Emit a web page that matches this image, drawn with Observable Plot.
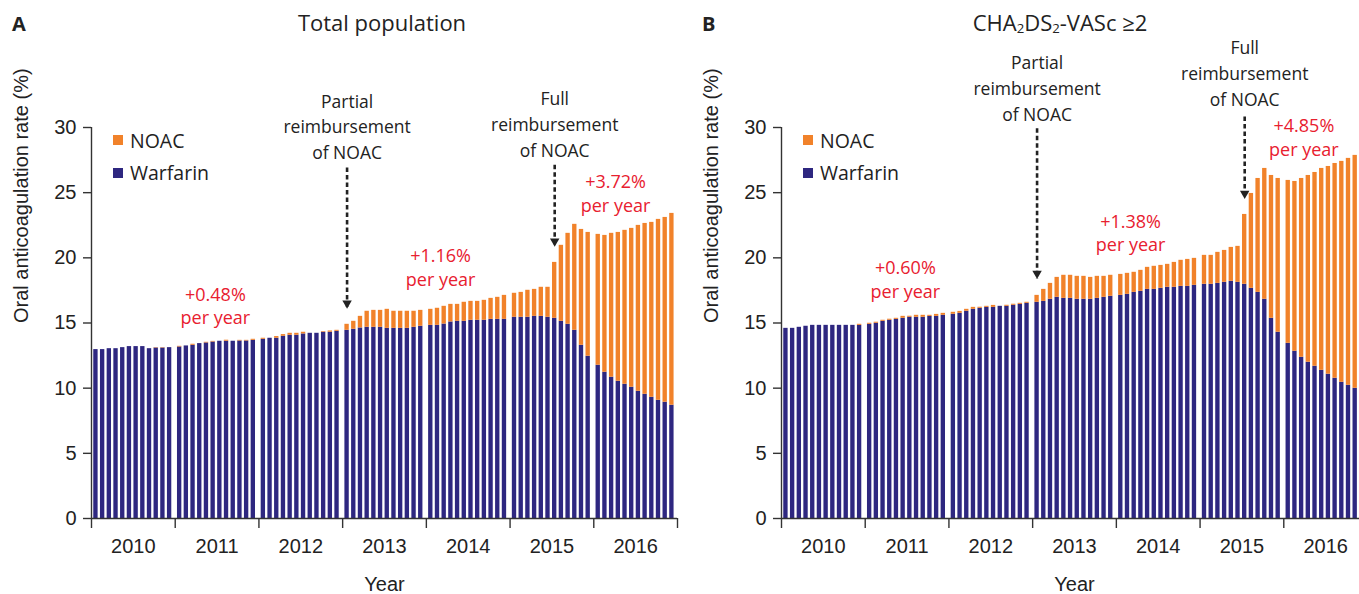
<!DOCTYPE html>
<html><head><meta charset="utf-8">
<script src="https://cdn.jsdelivr.net/npm/d3@7"></script>
<script src="https://cdn.jsdelivr.net/npm/@observablehq/plot@0.6"></script>
<style>
body{margin:0;overflow:hidden;background:#fff;}
#wrap{position:relative;width:1359px;height:594px;overflow:hidden;background:#fff;}
.panel{position:absolute;top:0;height:594px;}
.t{position:absolute;font-family:"Open Sans",sans-serif;color:#222;white-space:nowrap;line-height:1;}
.letter{font-weight:700;font-size:20px;}
.title{font-size:22px;transform:translateX(-50%);}
.title sub{font-size:0.6em;vertical-align:-0.12em;}
.sw{position:absolute;width:10px;height:10px;}
.lg{position:absolute;font-family:"Open Sans",sans-serif;font-size:19.5px;color:#222;line-height:1;white-space:nowrap;}
</style></head><body><div id="wrap"></div>
<script>
// ---- data ----
const years = [2010, 2011, 2012, 2013, 2014, 2015, 2016];
const series = ["NOAC", "Warfarin"];
const yTicks = [0, 5, 10, 15, 20, 25, 30];

const warfarinA = [
  12.96,12.96,13.03,13.03,13.11,13.19,13.19,13.19,13.03,13.08,13.08,13.11,
  13.16,13.24,13.29,13.42,13.47,13.54,13.60,13.60,13.60,13.62,13.62,13.67,
  13.75,13.83,13.83,13.98,14.06,14.06,14.16,14.21,14.21,14.29,14.29,14.36,
  14.44,14.52,14.62,14.67,14.67,14.67,14.59,14.59,14.59,14.59,14.67,14.75,
  14.82,14.82,14.92,15.08,15.13,15.13,15.21,15.21,15.21,15.28,15.28,15.28,
  15.44,15.44,15.44,15.51,15.51,15.44,15.36,15.13,14.90,14.44,13.29,12.45,
  11.76,11.22,10.84,10.53,10.30,10.07,9.76,9.53,9.30,9.07,8.92,8.69];
const noacA = [
  0,0,0,0,0,0,0,0,0,0.03,0.03,0,
  0.05,0,0.08,0,0.05,0.05,0,0.08,0,0.05,0.05,0.08,
  0.08,0,0.13,0.13,0.15,0.15,0.13,0,0,0.05,0.10,0.08,
  0.46,0.61,0.89,1.23,1.30,1.30,1.46,1.31,1.31,1.31,1.23,1.22,
  1.23,1.31,1.36,1.35,1.30,1.46,1.45,1.45,1.53,1.61,1.69,1.84,
  1.84,1.91,2.07,2.07,2.23,2.30,4.29,5.83,6.98,8.13,8.89,9.50,
  10.04,10.50,11.04,11.42,11.81,12.19,12.73,13.11,13.42,13.88,14.18,14.72];
const warfarinB = [
  14.59,14.59,14.67,14.75,14.82,14.82,14.82,14.82,14.82,14.82,14.82,14.82,
  14.90,14.98,15.13,15.21,15.28,15.36,15.44,15.44,15.44,15.51,15.51,15.59,
  15.67,15.74,15.90,16.05,16.13,16.20,16.20,16.28,16.28,16.36,16.43,16.51,
  16.59,16.66,16.82,16.97,16.89,16.89,16.82,16.82,16.82,16.89,16.97,17.05,
  17.12,17.20,17.35,17.43,17.58,17.58,17.66,17.74,17.74,17.81,17.81,17.89,
  17.97,17.97,18.04,18.12,18.20,18.12,17.97,17.66,17.35,16.82,15.36,14.29,
  13.44,12.83,12.37,11.99,11.68,11.37,11.07,10.76,10.45,10.22,9.99,9.76];
const noacB = [
  0,0,0,0,0,0,0,0,0,0,0,0.08,
  0.08,0.08,0.08,0.08,0.08,0.15,0.08,0.15,0.15,0.08,0.15,0.15,
  0.15,0.15,0.15,0.15,0.08,0.08,0.15,0,0.08,0.08,0.08,0.08,
  0.53,0.92,1.22,1.53,1.77,1.77,1.76,1.76,1.68,1.69,1.61,1.61,
  1.61,1.61,1.54,1.61,1.69,1.77,1.76,1.76,1.91,2.00,2.07,2.07,
  2.22,2.22,2.38,2.45,2.60,2.76,5.36,7.28,8.74,10.04,10.96,11.80,
  12.50,13.03,13.72,14.33,14.87,15.49,15.94,16.48,16.95,17.41,17.87,18.31];

// annotations
const trendTextA = ["+0.48%\nper year", "+1.16%\nper year", "+3.72%\nper year"];
const trendXA = [2011.48, 2014.17, 2016.26];
const trendYA = [16.40, 19.33, 25.00];
const trendTextB = ["+0.60%\nper year", "+1.38%\nper year", "+4.85%\nper year"];
const trendXB = [2011.48, 2014.17, 2016.24];
const trendYB = [18.40, 22.00, 29.30];

const eventText = ["Partial\nreimbursement\nof NOAC", "Full\nreimbursement\nof NOAC"];
const eventMonth = [36, 66];          // Jan 2013, Jul 2015
const eventTextYA = [30.18, 30.36];
const arrowTopA = [26.9, 27.1];
const arrowTipA = [16.1, 20.86];
const eventTextYB = [33.12, 34.28];
const arrowTopB = [29.9, 30.8];
const arrowTipB = [18.38, 24.52];

const ORANGE = "#F1822A", NAVY = "#2E2780", RED = "#E8202F", INK = "#222";
const SANS = "Liberation Sans, Arial, sans-serif";
const HUMAN = "Open Sans, sans-serif";
const BAR_W = 0.052;
const monthX = i => years[0] + Math.floor(i / 12) + 0.027 + (i % 12) * 0.08;
const monthC = i => monthX(i) + BAR_W / 2;

function panel(warf, noac, trendText, trendX, trendY, evTextY, arTop, arTip) {
  const long = [];
  warf.forEach((v, i) => long.push({i, drug: "Warfarin", value: v}));
  noac.forEach((v, i) => long.push({i, drug: "NOAC", value: v}));
  const trends = trendText.map((t, k) => ({t, x: trendX[k], y: trendY[k]}));
  const events = eventText.map((t, k) => ({t, x: monthC(eventMonth[k]), ty: evTextY[k], top: arTop[k], tip: arTip[k]}));
  return Plot.plot({
    width: 677, height: 594,
    marginLeft: 91, marginRight: 0, marginTop: 127, marginBottom: 76,
    style: {background: "transparent", maxWidth: "none", overflow: "visible", fontFamily: SANS, color: INK},
    x: {domain: [2010, 2017], axis: null},
    y: {domain: [0, 30], axis: null},
    color: {domain: series, range: [ORANGE, NAVY]},
    marks: [
      Plot.rectY(long, {x1: d => monthX(d.i), x2: d => monthX(d.i) + BAR_W, y: "value", fill: "drug", order: ["Warfarin", "NOAC"]}),
      Plot.ruleX([2010], {y1: 0, y2: 30, stroke: "#333", strokeWidth: 1.4}),
      Plot.ruleY([0], {x1: 2010, x2: 2017, stroke: "#333", strokeWidth: 1.4}),
      Plot.axisY({ticks: yTicks, tickSize: 8, tickPadding: 7, fontSize: 20, fontFamily: SANS, label: null, stroke: "#333", strokeWidth: 1.4}),
      Plot.axisX({ticks: years.concat([2017]), tickFormat: () => "", tickSize: 10, label: null, stroke: "#333", strokeWidth: 1.4}),
      Plot.text(years, {x: d => d + 0.5, y: 0, dy: 28, text: d => String(d), fontSize: 20, fontFamily: SANS, fill: INK}),
      Plot.text(["Year"], {x: 2013.5, y: 0, dy: 66.5, text: d => d, fontSize: 20, fontFamily: SANS, fill: INK}),
      Plot.text(["Oral anticoagulation rate (%)"], {frameAnchor: "left", dx: -69.5, rotate: -90, text: d => d, fontSize: 20, fontFamily: SANS, fill: INK}),
      Plot.ruleX(events, {x: "x", y1: "top", y2: "tip", stroke: INK, strokeWidth: 2.6, strokeDasharray: "4.5,3"}),
      Plot.dot(events, {x: "x", y: "tip", symbol: "triangle", rotate: 180, r: 3.5, dy: -5.4, fill: INK, stroke: "none"}),
      Plot.text(events, {x: "x", y: "ty", text: "t", lineHeight: 1.47, fontSize: 17.5, fontFamily: HUMAN, fill: INK}),
      Plot.text(trends, {x: "x", y: "y", text: "t", lineHeight: 1.3, fontSize: 18, fontFamily: HUMAN, fill: RED})
    ]
  });
}

const wrap = document.getElementById("wrap");
function addPanel(left, node, letter, titleHTML, titleX) {
  const d = document.createElement("div");
  d.className = "panel"; d.style.left = left + "px"; d.style.width = "677px";
  d.appendChild(node);
  wrap.appendChild(d);
  const l = document.createElement("div");
  l.className = "t letter"; l.textContent = letter;
  l.style.left = (left + 12) + "px"; l.style.top = "14px";
  wrap.appendChild(l);
  const t = document.createElement("div");
  t.className = "t title"; t.innerHTML = titleHTML;
  t.style.left = titleX + "px"; t.style.top = "11px";
  wrap.appendChild(t);
  // legend
  [["NOAC", ORANGE, 135], ["Warfarin", NAVY, 167.5]].forEach(([name, c, y]) => {
    const s = document.createElement("div");
    s.className = "sw"; s.style.background = c; s.style.left = (left + 113) + "px"; s.style.top = y + "px";
    wrap.appendChild(s);
    const tx = document.createElement("div");
    tx.className = "lg"; tx.textContent = name; tx.style.left = (left + 130) + "px"; tx.style.top = (y - 4.5) + "px";
    wrap.appendChild(tx);
  });
}

addPanel(0, panel(warfarinA, noacA, trendTextA, trendXA, trendYA, eventTextYA, arrowTopA, arrowTipA), "A", "Total population", 382);
addPanel(690, panel(warfarinB, noacB, trendTextB, trendXB, trendYB, eventTextYB, arrowTopB, arrowTipB), "B", "CHA<sub>2</sub>DS<sub>2</sub>-VASc ≥2", 1060);
</script></body></html>
